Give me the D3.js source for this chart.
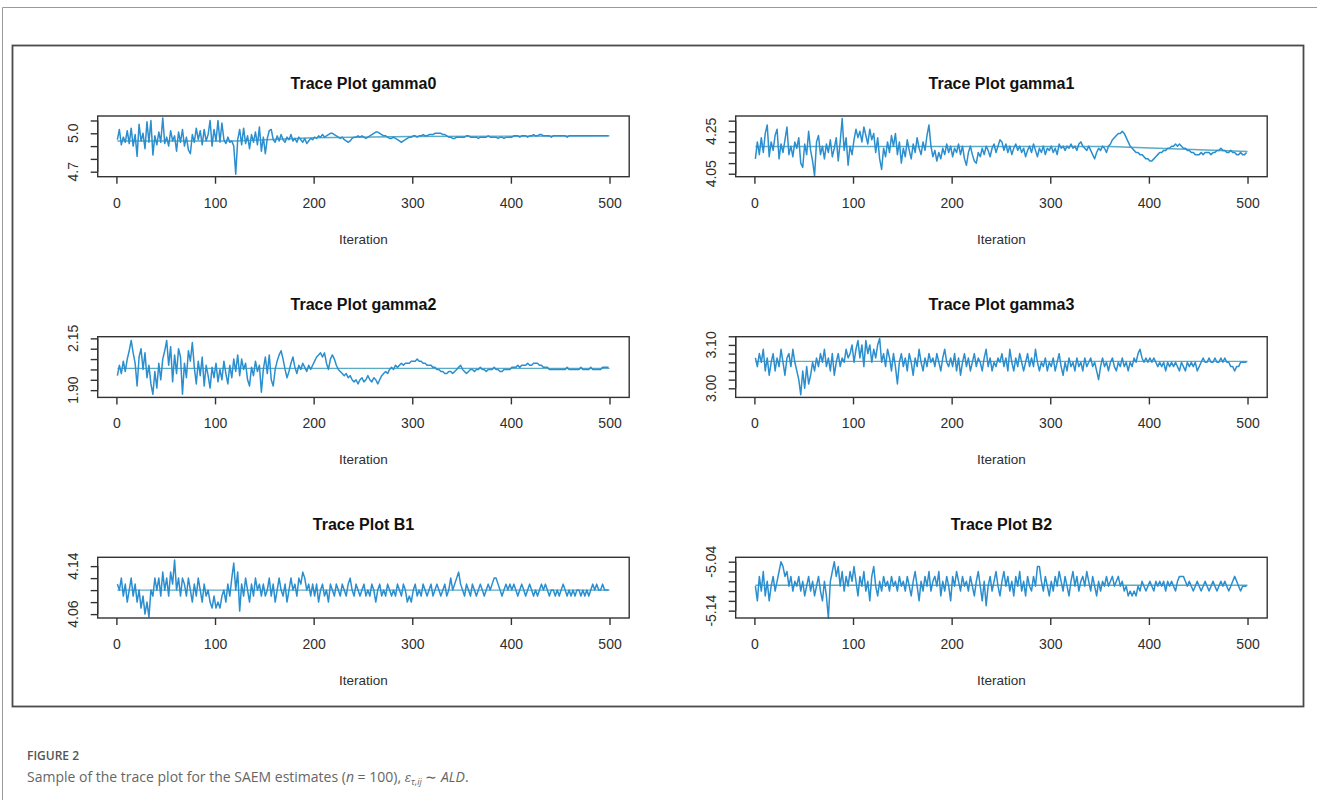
<!DOCTYPE html>
<html>
<head>
<meta charset="utf-8">
<script src="https://cdn.jsdelivr.net/npm/d3@7"></script>
<style>
  body { margin: 0; background: #fff; }
  svg { display: block; }
</style>
</head>
<body>
<div id="chart"></div>
<script>
// ---- data ----
// each trace holds one value every 2nd iteration, starting at iteration 1
const iterStart = 1;
const iterStep = 2;
const xTicks = [0, 100, 200, 300, 400, 500];
const xDomain = [-18.96, 519.96];

const titles = ["Trace Plot gamma0", "Trace Plot gamma1", "Trace Plot gamma2",
                "Trace Plot gamma3", "Trace Plot B1", "Trace Plot B2"];

const gamma0 = [
  4.95, 5.03, 4.91, 4.97, 4.93, 5.02, 4.92, 5.04, 4.90, 4.99, 4.82, 5.07, 4.94, 5.00, 4.88, 5.09, 4.93, 5.10, 4.83, 4.98, 4.91, 5.01, 4.93, 5.12, 4.92,
  4.97, 4.90, 5.02, 4.94, 4.98, 4.86, 5.01, 4.93, 5.03, 4.90, 4.97, 4.87, 4.84, 4.99, 4.93, 5.04, 4.95, 5.02, 4.91, 5.03, 4.94, 4.99, 5.10, 4.90, 5.03,
  4.94, 5.10, 4.93, 5.08, 4.95, 4.92, 4.97, 4.93, 4.94, 4.90, 4.68, 4.95, 5.03, 4.91, 5.04, 4.92, 4.98, 4.88, 4.99, 4.93, 5.01, 4.91, 5.05, 4.86, 4.97,
  4.84, 4.96, 5.02, 5.03, 4.95, 4.93, 4.98, 4.94, 4.99, 4.95, 4.93, 4.97, 4.95, 4.99, 4.94, 4.96, 4.93, 4.97, 4.95, 4.93, 4.96, 4.92, 4.94, 4.96, 4.95,
  4.97, 4.96, 4.98, 4.97, 4.99, 4.97, 4.98, 4.99, 5.00, 5.00, 4.99, 4.98, 4.97, 4.96, 4.97, 4.95, 4.94, 4.93, 4.94, 4.96, 4.97, 4.97, 4.98, 4.97, 4.98,
  4.97, 4.96, 4.97, 4.98, 4.99, 5.00, 5.01, 5.01, 5.00, 4.99, 4.98, 4.98, 4.97, 4.96, 4.96, 4.97, 4.96, 4.95, 4.94, 4.93, 4.94, 4.95, 4.96, 4.97, 4.97,
  4.98, 4.98, 4.97, 4.98, 4.98, 4.99, 4.98, 4.98, 4.99, 4.99, 4.99, 5.00, 5.00, 5.00, 5.00, 4.99, 4.99, 4.98, 4.97, 4.97, 4.96, 4.96, 4.97, 4.97, 4.97,
  4.97, 4.97, 4.98, 4.98, 4.97, 4.97, 4.97, 4.97, 4.96, 4.97, 4.97, 4.97, 4.97, 4.98, 4.97, 4.97, 4.97, 4.97, 4.96, 4.97, 4.97, 4.96, 4.97, 4.97, 4.97,
  4.97, 4.98, 4.98, 4.98, 4.97, 4.98, 4.98, 4.98, 4.97, 4.98, 4.98, 4.99, 4.98, 4.98, 4.99, 4.99, 4.98, 4.98, 4.98, 4.98, 4.97, 4.98, 4.98, 4.98, 4.98,
  4.98, 4.98, 4.98, 4.97, 4.98, 4.98, 4.98, 4.98, 4.98, 4.98, 4.98, 4.98, 4.98, 4.98, 4.98, 4.98, 4.98, 4.98, 4.98, 4.98, 4.98, 4.98, 4.98, 4.98, 4.98
];

const gamma1 = [
  4.12, 4.20, 4.14, 4.22, 4.15, 4.24, 4.28, 4.13, 4.20, 4.16, 4.23, 4.26, 4.12, 4.19, 4.15, 4.21, 4.27, 4.14, 4.18, 4.13, 4.20, 4.17, 4.22, 4.10, 4.08,
  4.19, 4.14, 4.25, 4.16, 4.11, 4.04, 4.20, 4.23, 4.14, 4.18, 4.12, 4.19, 4.15, 4.21, 4.13, 4.17, 4.22, 4.11, 4.20, 4.31, 4.16, 4.22, 4.09, 4.18, 4.14,
  4.21, 4.26, 4.22, 4.25, 4.20, 4.27, 4.23, 4.19, 4.26, 4.21, 4.24, 4.15, 4.22, 4.12, 4.07, 4.17, 4.13, 4.20, 4.15, 4.23, 4.18, 4.24, 4.14, 4.20, 4.10,
  4.17, 4.13, 4.21, 4.16, 4.12, 4.19, 4.15, 4.22, 4.17, 4.14, 4.20, 4.16, 4.23, 4.28, 4.18, 4.13, 4.16, 4.11, 4.15, 4.12, 4.17, 4.14, 4.19, 4.15, 4.18,
  4.13, 4.17, 4.15, 4.19, 4.14, 4.18, 4.12, 4.09, 4.15, 4.18, 4.14, 4.11, 4.10, 4.15, 4.13, 4.17, 4.14, 4.18, 4.16, 4.13, 4.17, 4.19, 4.15, 4.18, 4.21,
  4.20, 4.16, 4.19, 4.15, 4.18, 4.14, 4.17, 4.19, 4.16, 4.18, 4.15, 4.17, 4.13, 4.16, 4.18, 4.15, 4.19, 4.16, 4.13, 4.17, 4.15, 4.18, 4.14, 4.17, 4.16,
  4.18, 4.15, 4.17, 4.14, 4.19, 4.17, 4.18, 4.16, 4.18, 4.17, 4.19, 4.17, 4.18, 4.16, 4.19, 4.20, 4.18, 4.17, 4.16, 4.18, 4.16, 4.14, 4.12, 4.15, 4.17,
  4.16, 4.18, 4.17, 4.15, 4.18, 4.19, 4.21, 4.22, 4.23, 4.24, 4.24, 4.25, 4.24, 4.22, 4.20, 4.18, 4.17, 4.16, 4.15, 4.15, 4.14, 4.14, 4.13, 4.12, 4.12,
  4.11, 4.11, 4.12, 4.13, 4.14, 4.15, 4.15, 4.16, 4.16, 4.17, 4.17, 4.18, 4.18, 4.19, 4.18, 4.19, 4.18, 4.17, 4.17, 4.16, 4.16, 4.15, 4.15, 4.14, 4.14,
  4.14, 4.15, 4.14, 4.15, 4.15, 4.15, 4.14, 4.15, 4.15, 4.16, 4.16, 4.17, 4.16, 4.16, 4.15, 4.15, 4.16, 4.15, 4.15, 4.14, 4.14, 4.15, 4.14, 4.14, 4.15
];

const gamma2 = [
  1.97, 2.02, 1.98, 2.04, 1.99, 2.05, 2.09, 2.14, 2.08, 2.03, 1.92, 2.06, 2.10, 2.00, 2.08, 1.96, 2.02, 1.93, 1.88, 1.99, 1.91, 2.03, 1.95, 2.05, 2.09,
  2.14, 2.02, 2.11, 1.94, 2.07, 1.98, 2.10, 2.06, 1.88, 2.03, 1.96, 2.09, 2.04, 2.13, 2.01, 1.93, 2.04, 1.97, 2.06, 1.92, 2.02, 1.97, 1.91, 2.01, 1.96,
  2.03, 1.94, 2.00, 1.95, 2.04, 1.98, 1.93, 2.02, 1.96, 2.05, 1.99, 2.07, 1.97, 2.05, 2.00, 2.03, 1.95, 1.92, 2.01, 1.97, 2.04, 1.99, 2.02, 1.89, 2.00,
  2.06, 1.98, 2.07, 1.95, 1.92, 2.00, 2.04, 2.07, 2.09, 2.05, 2.00, 1.96, 1.99, 2.03, 2.06, 2.01, 1.98, 2.02, 2.00, 2.03, 2.01, 1.99, 2.02, 2.00, 2.02,
  2.04, 2.06, 2.07, 2.08, 2.06, 2.08, 2.03, 2.00, 2.05, 2.07, 2.05, 2.02, 2.00, 1.99, 1.98, 1.97, 1.98, 1.96, 1.97, 1.95, 1.94, 1.95, 1.93, 1.95, 1.96,
  1.94, 1.95, 1.97, 1.95, 1.94, 1.96, 1.95, 1.93, 1.95, 1.97, 1.98, 1.99, 1.98, 2.00, 2.01, 2.00, 2.02, 2.01, 2.02, 2.03, 2.02, 2.03, 2.03, 2.03, 2.04,
  2.04, 2.04, 2.05, 2.04, 2.04, 2.03, 2.03, 2.02, 2.02, 2.02, 2.01, 2.01, 2.00, 2.00, 1.99, 1.99, 1.98, 1.98, 1.99, 1.99, 1.98, 1.99, 2.00, 2.01, 2.02,
  2.00, 1.99, 1.98, 1.99, 2.00, 2.00, 1.99, 2.00, 2.00, 2.01, 2.00, 2.00, 1.99, 2.00, 2.00, 2.00, 2.01, 2.00, 2.00, 1.99, 1.99, 2.00, 2.00, 2.00, 2.00,
  2.01, 2.01, 2.01, 2.02, 2.01, 2.02, 2.02, 2.02, 2.03, 2.02, 2.02, 2.03, 2.03, 2.03, 2.02, 2.02, 2.01, 2.01, 2.01, 2.00, 2.00, 2.00, 2.00, 2.00, 2.00,
  2.00, 2.00, 2.00, 2.01, 2.00, 2.00, 2.00, 2.00, 2.00, 2.00, 2.01, 2.00, 2.00, 2.00, 2.00, 2.01, 2.00, 2.00, 2.00, 2.00, 2.00, 2.01, 2.01, 2.01, 2.01
];

const gamma3 = [
  3.07, 3.05, 3.08, 3.06, 3.09, 3.04, 3.07, 3.03, 3.06, 3.08, 3.04, 3.07, 3.05, 3.09, 3.06, 3.03, 3.07, 3.08, 3.05, 3.09, 3.06, 3.04, 3.02, 2.985, 3.04,
  3.00, 3.05, 3.01, 3.03, 3.06, 3.04, 3.07, 3.05, 3.08, 3.06, 3.09, 3.05, 3.07, 3.04, 3.08, 3.03, 3.06, 3.08, 3.05, 3.07, 3.06, 3.09, 3.07, 3.08, 3.10,
  3.06, 3.09, 3.11, 3.07, 3.10, 3.05, 3.11, 3.08, 3.10, 3.06, 3.09, 3.07, 3.10, 3.115, 3.06, 3.08, 3.05, 3.09, 3.07, 3.04, 3.08, 3.05, 3.01, 3.06, 3.08,
  3.05, 3.07, 3.04, 3.08, 3.06, 3.03, 3.07, 3.05, 3.09, 3.06, 3.04, 3.07, 3.05, 3.08, 3.06, 3.07, 3.05, 3.08, 3.06, 3.04, 3.07, 3.09, 3.06, 3.05, 3.07,
  3.05, 3.08, 3.04, 3.07, 3.03, 3.06, 3.08, 3.05, 3.07, 3.04, 3.06, 3.08, 3.05, 3.07, 3.06, 3.04, 3.07, 3.09, 3.05, 3.07, 3.04, 3.06, 3.05, 3.07, 3.06,
  3.08, 3.05, 3.07, 3.04, 3.09, 3.06, 3.04, 3.07, 3.05, 3.08, 3.06, 3.04, 3.06, 3.08, 3.05, 3.07, 3.05, 3.09, 3.06, 3.04, 3.06, 3.05, 3.07, 3.04, 3.06,
  3.05, 3.07, 3.04, 3.06, 3.08, 3.05, 3.03, 3.06, 3.04, 3.07, 3.05, 3.06, 3.04, 3.07, 3.05, 3.06, 3.04, 3.07, 3.05, 3.06, 3.07, 3.05, 3.06, 3.04, 3.02,
  3.05, 3.07, 3.05, 3.06, 3.04, 3.06, 3.07, 3.05, 3.04, 3.06, 3.05, 3.07, 3.05, 3.06, 3.04, 3.06, 3.05, 3.07, 3.06, 3.08, 3.09, 3.07, 3.06, 3.07, 3.06,
  3.07, 3.06, 3.07, 3.06, 3.05, 3.06, 3.05, 3.06, 3.04, 3.06, 3.05, 3.06, 3.05, 3.06, 3.05, 3.04, 3.06, 3.05, 3.04, 3.06, 3.05, 3.06, 3.05, 3.06, 3.04,
  3.05, 3.06, 3.07, 3.06, 3.06, 3.07, 3.06, 3.06, 3.07, 3.06, 3.06, 3.07, 3.06, 3.07, 3.06, 3.06, 3.05, 3.05, 3.04, 3.05, 3.05, 3.06, 3.06, 3.06, 3.06
];

const b1 = [
  4.11, 4.10, 4.12, 4.09, 4.11, 4.08, 4.10, 4.12, 4.09, 4.11, 4.08, 4.10, 4.07, 4.09, 4.06, 4.08, 4.055, 4.10, 4.09, 4.12, 4.10, 4.12, 4.09, 4.13, 4.10,
  4.12, 4.09, 4.13, 4.11, 4.15, 4.10, 4.12, 4.09, 4.12, 4.11, 4.09, 4.12, 4.10, 4.08, 4.11, 4.09, 4.12, 4.10, 4.08, 4.11, 4.09, 4.10, 4.08, 4.07, 4.09,
  4.07, 4.08, 4.07, 4.09, 4.10, 4.08, 4.11, 4.09, 4.12, 4.145, 4.10, 4.13, 4.065, 4.11, 4.09, 4.12, 4.10, 4.08, 4.11, 4.09, 4.12, 4.10, 4.11, 4.09, 4.11,
  4.09, 4.10, 4.12, 4.09, 4.11, 4.08, 4.10, 4.12, 4.10, 4.09, 4.11, 4.08, 4.10, 4.12, 4.10, 4.11, 4.09, 4.12, 4.11, 4.13, 4.12, 4.10, 4.11, 4.09, 4.11,
  4.09, 4.11, 4.08, 4.10, 4.11, 4.09, 4.10, 4.08, 4.11, 4.10, 4.09, 4.11, 4.10, 4.09, 4.11, 4.10, 4.09, 4.11, 4.12, 4.10, 4.09, 4.11, 4.10, 4.09, 4.10,
  4.11, 4.09, 4.10, 4.09, 4.11, 4.10, 4.08, 4.10, 4.11, 4.09, 4.10, 4.09, 4.11, 4.10, 4.09, 4.10, 4.09, 4.11, 4.10, 4.09, 4.11, 4.10, 4.08, 4.09, 4.08,
  4.10, 4.11, 4.09, 4.10, 4.09, 4.11, 4.10, 4.09, 4.10, 4.11, 4.09, 4.10, 4.11, 4.10, 4.09, 4.10, 4.11, 4.09, 4.10, 4.12, 4.10, 4.11, 4.12, 4.13, 4.11,
  4.10, 4.09, 4.11, 4.10, 4.09, 4.11, 4.10, 4.09, 4.10, 4.11, 4.10, 4.09, 4.10, 4.11, 4.10, 4.11, 4.12, 4.12, 4.11, 4.10, 4.09, 4.10, 4.11, 4.10, 4.11,
  4.10, 4.11, 4.10, 4.09, 4.10, 4.11, 4.10, 4.09, 4.10, 4.11, 4.10, 4.09, 4.10, 4.09, 4.10, 4.11, 4.10, 4.11, 4.10, 4.09, 4.10, 4.10, 4.09, 4.10, 4.09,
  4.10, 4.11, 4.10, 4.09, 4.10, 4.09, 4.10, 4.09, 4.10, 4.10, 4.09, 4.10, 4.09, 4.10, 4.09, 4.10, 4.11, 4.10, 4.11, 4.10, 4.10, 4.11, 4.10, 4.10, 4.10
];

const b2 = [
  -5.09, -5.12, -5.07, -5.10, -5.06, -5.11, -5.08, -5.12, -5.09, -5.07, -5.10, -5.08, -5.06, -5.04, -5.05, -5.07, -5.06, -5.09, -5.07, -5.10, -5.08, -5.09, -5.07, -5.10, -5.08,
  -5.11, -5.09, -5.07, -5.10, -5.08, -5.11, -5.09, -5.07, -5.10, -5.12, -5.08, -5.11, -5.155, -5.08, -5.06, -5.04, -5.07, -5.05, -5.09, -5.06, -5.10, -5.07, -5.09, -5.06, -5.08,
  -5.05, -5.08, -5.11, -5.07, -5.09, -5.06, -5.10, -5.08, -5.12, -5.07, -5.05, -5.09, -5.11, -5.08, -5.10, -5.07, -5.09, -5.08, -5.10, -5.07, -5.09, -5.08, -5.10, -5.07, -5.09,
  -5.08, -5.10, -5.07, -5.09, -5.11, -5.08, -5.06, -5.09, -5.12, -5.08, -5.10, -5.07, -5.09, -5.06, -5.10, -5.08, -5.07, -5.09, -5.06, -5.11, -5.08, -5.10, -5.07, -5.09, -5.12,
  -5.07, -5.09, -5.06, -5.08, -5.10, -5.07, -5.09, -5.08, -5.10, -5.07, -5.09, -5.11, -5.08, -5.06, -5.09, -5.12, -5.08, -5.13, -5.09, -5.07, -5.10, -5.08, -5.06, -5.09, -5.11,
  -5.08, -5.06, -5.09, -5.07, -5.10, -5.08, -5.11, -5.07, -5.09, -5.06, -5.10, -5.08, -5.11, -5.07, -5.09, -5.10, -5.07, -5.09, -5.05, -5.05, -5.08, -5.10, -5.07, -5.09, -5.11,
  -5.08, -5.10, -5.07, -5.09, -5.06, -5.08, -5.10, -5.07, -5.09, -5.11, -5.08, -5.06, -5.09, -5.07, -5.10, -5.08, -5.07, -5.09, -5.06, -5.08, -5.10, -5.07, -5.09, -5.11, -5.08,
  -5.10, -5.08, -5.09, -5.07, -5.09, -5.08, -5.07, -5.09, -5.08, -5.07, -5.09, -5.08, -5.10, -5.09, -5.11, -5.10, -5.11, -5.10, -5.11, -5.09, -5.10, -5.08, -5.09, -5.10, -5.09,
  -5.08, -5.09, -5.10, -5.08, -5.09, -5.08, -5.09, -5.08, -5.10, -5.08, -5.09, -5.08, -5.09, -5.10, -5.08, -5.07, -5.07, -5.07, -5.08, -5.09, -5.08, -5.09, -5.10, -5.09, -5.08,
  -5.09, -5.10, -5.09, -5.08, -5.09, -5.10, -5.09, -5.08, -5.09, -5.10, -5.09, -5.08, -5.09, -5.08, -5.09, -5.10, -5.09, -5.08, -5.07, -5.08, -5.09, -5.10, -5.09, -5.09, -5.09
];

// horizontal reference (running estimate) lines: [iteration, value]
const gamma0Ref = [[1, 4.94], [120, 4.94], [200, 4.965], [300, 4.975], [500, 4.98]];
const gamma1Ref = [[1, 4.178], [360, 4.178], [500, 4.155]];
const gamma2Ref = [[1, 2.005], [500, 2.005]];
const gamma3Ref = [[1, 3.062], [500, 3.062]];
const b1Ref = [[1, 4.10], [500, 4.10]];
const b2Ref = [[1, -5.088], [500, -5.088]];

// y ranges, tick marks and the tick labels that are printed
const gamma0Domain = [4.661, 5.135];
const gamma0Ticks = [4.7, 4.8, 4.9, 5.0, 5.1];
const gamma0Labels = [4.7, 5.0];
const gamma1Domain = [4.036, 4.322];
const gamma1Ticks = [4.05, 4.10, 4.15, 4.20, 4.25, 4.30];
const gamma1Labels = [4.05, 4.25];
const gamma2Domain = [1.865, 2.158];
const gamma2Ticks = [1.90, 1.95, 2.00, 2.05, 2.10, 2.15];
const gamma2Labels = [1.90, 2.15];
const gamma3Domain = [2.979, 3.119];
const gamma3Ticks = [3.00, 3.02, 3.04, 3.06, 3.08, 3.10, 3.12];
const gamma3Labels = [3.00, 3.10];
const b1Domain = [4.0535, 4.1547];
const b1Ticks = [4.06, 4.08, 4.10, 4.12, 4.14];
const b1Labels = [4.06, 4.14];
const b2Domain = [-5.155, -5.031];
const b2Ticks = [-5.14, -5.12, -5.10, -5.08, -5.06, -5.04];
const b2Labels = [-5.14, -5.04];

const panels = [
  { title: titles[0], values: gamma0, ref: gamma0Ref, domain: gamma0Domain, ticks: gamma0Ticks, labels: gamma0Labels, digits: 1 },
  { title: titles[1], values: gamma1, ref: gamma1Ref, domain: gamma1Domain, ticks: gamma1Ticks, labels: gamma1Labels, digits: 2 },
  { title: titles[2], values: gamma2, ref: gamma2Ref, domain: gamma2Domain, ticks: gamma2Ticks, labels: gamma2Labels, digits: 2 },
  { title: titles[3], values: gamma3, ref: gamma3Ref, domain: gamma3Domain, ticks: gamma3Ticks, labels: gamma3Labels, digits: 2 },
  { title: titles[4], values: b1, ref: b1Ref, domain: b1Domain, ticks: b1Ticks, labels: b1Labels, digits: 2 },
  { title: titles[5], values: b2, ref: b2Ref, domain: b2Domain, ticks: b2Ticks, labels: b2Labels, digits: 2 }
];

// ---- layout ----
const W = 1317, H = 800;
const colLeft = [97.7, 735.7];
const rowTop = [116, 336.7, 557.3];
const boxW = 531.5, boxH = 60.7;
const traceColor = "#2a8ecf";
const refColor = "#5aabc6";
const ink = "#2e2e2e";
const rFont = "'Liberation Sans', Arial, Helvetica, sans-serif";

const svg = d3.select("#chart").append("svg")
  .attr("width", W)
  .attr("height", H);

svg.append("rect").attr("width", W).attr("height", H).attr("fill", "#fff");

// page frame (top + left grey rule)
svg.append("path")
  .attr("d", `M2.5,${H} L2.5,7.5 L${W},7.5`)
  .attr("fill", "none")
  .attr("stroke", "#9a9a9a")
  .attr("stroke-width", 1);

// figure frame
svg.append("rect")
  .attr("x", 12.5).attr("y", 45.5)
  .attr("width", 1291).attr("height", 661)
  .attr("fill", "none")
  .attr("stroke", "#4a4a4a")
  .attr("stroke-width", 1.8);

panels.forEach((p, i) => {
  const col = i % 2, row = Math.floor(i / 2);
  const g = svg.append("g")
    .attr("transform", `translate(${colLeft[col]},${rowTop[row]})`);

  const x = d3.scaleLinear().domain(xDomain).range([0, boxW]);
  const y = d3.scaleLinear().domain(p.domain).range([boxH, 0]);

  // reference line underneath, trace on top
  g.append("path")
    .datum(p.ref)
    .attr("fill", "none")
    .attr("stroke", refColor)
    .attr("stroke-width", 1.4)
    .attr("d", d3.line().x(d => x(d[0])).y(d => y(d[1])));

  g.append("path")
    .datum(p.values)
    .attr("fill", "none")
    .attr("stroke", traceColor)
    .attr("stroke-width", 1.5)
    .attr("stroke-linejoin", "round")
    .attr("d", d3.line().x((d, j) => x(iterStart + j * iterStep)).y(d => y(d)));

  // plot box
  g.append("rect")
    .attr("width", boxW).attr("height", boxH)
    .attr("fill", "none")
    .attr("stroke", "#333")
    .attr("stroke-width", 1.4);

  // x axis
  const xa = g.append("g")
    .attr("transform", `translate(0,${boxH})`)
    .call(d3.axisBottom(x).tickValues(xTicks).tickSize(7).tickSizeOuter(0).tickPadding(14));
  xa.select(".domain").remove();
  xa.selectAll(".tick line").attr("stroke", "#333").attr("stroke-width", 1.4);
  xa.selectAll(".tick text")
    .attr("fill", ink)
    .style("font-family", rFont)
    .style("font-size", "14px");

  // y axis: ticks from the scale, labels rotated as in R
  const ya = g.append("g")
    .call(d3.axisLeft(y).tickValues(p.ticks).tickSize(7).tickSizeOuter(0).tickFormat(""));
  ya.select(".domain").remove();
  ya.selectAll(".tick line").attr("stroke", "#333").attr("stroke-width", 1.4);
  ya.append("line")
    .attr("x1", 0).attr("x2", 0)
    .attr("y1", y(d3.min(p.ticks))).attr("y2", y(d3.max(p.ticks)))
    .attr("stroke", "#333").attr("stroke-width", 1.4);

  g.selectAll(".ylab")
    .data(p.labels)
    .join("text")
    .attr("class", "ylab")
    .attr("transform", d => `translate(-25,${y(d)}) rotate(-90)`)
    .attr("dy", "0.35em")
    .attr("text-anchor", "middle")
    .attr("fill", ink)
    .style("font-family", rFont)
    .style("font-size", "14px")
    .text(d => d.toFixed(p.digits));

  // title + x label
  g.append("text")
    .attr("x", boxW / 2).attr("y", -27)
    .attr("text-anchor", "middle")
    .attr("fill", "#111")
    .style("font-family", rFont)
    .style("font-size", "16px")
    .style("font-weight", "bold")
    .text(p.title);

  g.append("text")
    .attr("x", boxW / 2).attr("y", boxH + 67)
    .attr("text-anchor", "middle")
    .attr("fill", ink)
    .style("font-family", rFont)
    .style("font-size", "13.5px")
    .text("Iteration");
});

// caption
svg.append("text")
  .attr("x", 27).attr("y", 760)
  .attr("fill", "#555")
  .style("font-family", "'Open Sans', sans-serif")
  .style("font-size", "12px")
  .style("font-weight", 600)
  .text("FIGURE 2");

const cap = svg.append("text")
  .attr("x", 27).attr("y", 782)
  .attr("fill", "#666")
  .style("font-family", "'Open Sans', sans-serif")
  .style("font-size", "14px");
cap.append("tspan").text("Sample of the trace plot for the SAEM estimates (");
cap.append("tspan").style("font-style", "italic").text("n");
cap.append("tspan").text(" = 100), ");
cap.append("tspan").style("font-style", "italic").style("font-family", "'DejaVu Serif', serif").style("font-size", "12px").text("ε");
cap.append("tspan").attr("dy", 3).style("font-style", "italic").style("font-size", "9px").text("τ,ij");
cap.append("tspan").attr("dy", -3).text(" ∼ ");
cap.append("tspan").style("font-style", "italic").text("ALD");
cap.append("tspan").text(".");
</script>
</body>
</html>
